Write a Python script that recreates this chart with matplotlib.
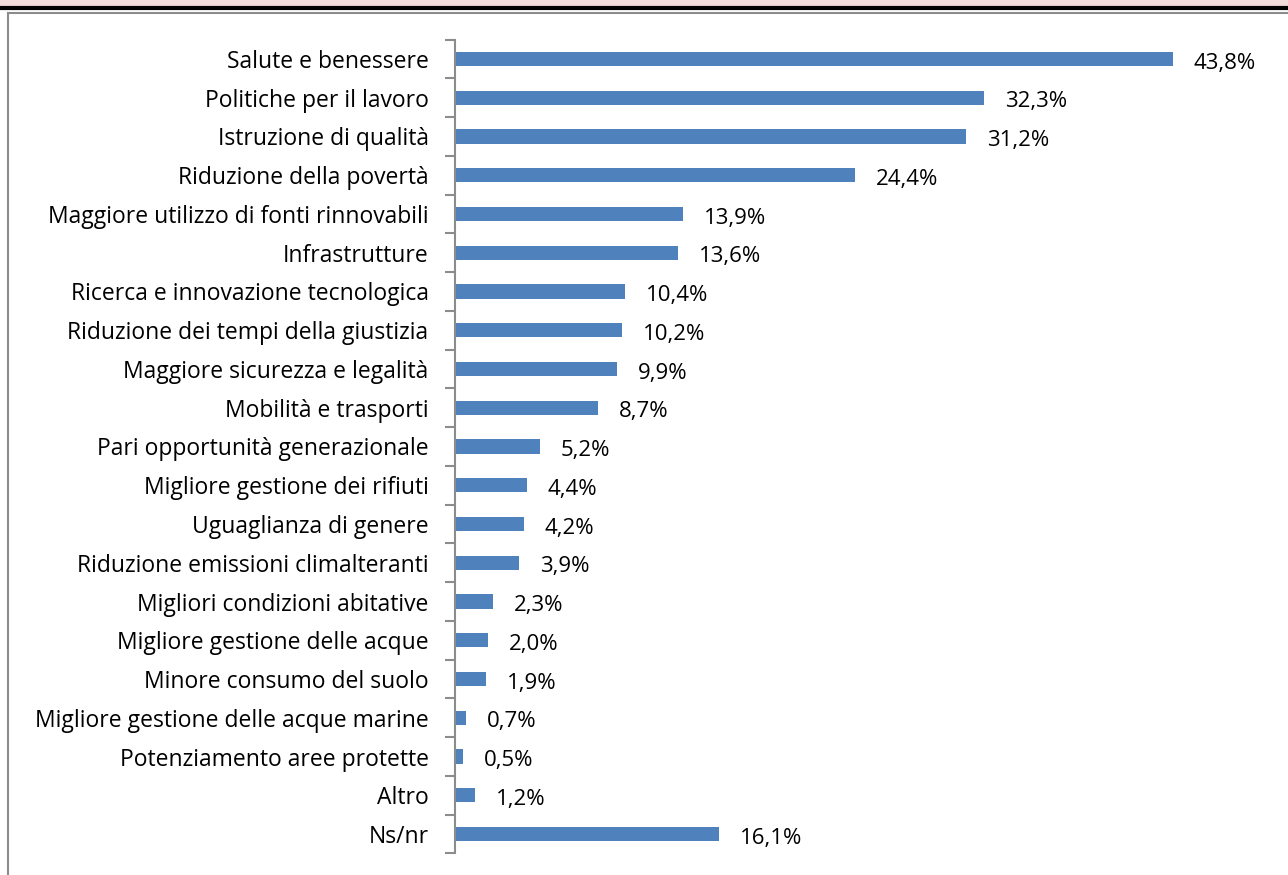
import matplotlib.pyplot as plt
from matplotlib.patches import Rectangle
from matplotlib.lines import Line2D

categories = ['Salute e benessere', 'Politiche per il lavoro', 'Istruzione di qualità',
              'Riduzione della povertà', 'Maggiore utilizzo di fonti rinnovabili',
              'Infrastrutture', 'Ricerca e innovazione tecnologica',
              'Riduzione dei tempi della giustizia', 'Maggiore sicurezza e legalità',
              'Mobilità e trasporti', 'Pari opportunità generazionale',
              'Migliore gestione dei rifiuti', 'Uguaglianza di genere',
              'Riduzione emissioni climalteranti', 'Migliori condizioni abitative',
              'Migliore gestione delle acque', 'Minore consumo del suolo',
              'Migliore gestione delle acque marine', 'Potenziamento aree protette',
              'Altro', 'Ns/nr']
values = [43.8, 32.3, 31.2, 24.4, 13.9, 13.6, 10.4, 10.2, 9.9, 8.7, 5.2,
          4.4, 4.2, 3.9, 2.3, 2.0, 1.9, 0.7, 0.5, 1.2, 16.1]
labels = [f'{v:.1f}%'.replace('.', ',') for v in values]

plt.rcParams['font.family'] = ['Open Sans', 'DejaVu Sans']

W, H = 1288, 875
fig = plt.figure(figsize=(W / 100, H / 100), dpi=100)

# pink header strip with rules
fig.add_artist(Rectangle((0, 1 - 8 / H), 1, 8 / H, transform=fig.transFigure,
                         facecolor='#f2dcdb', edgecolor='none'))
fig.add_artist(Line2D([0, 1], [1 - 8 / H, 1 - 8 / H], transform=fig.transFigure,
                      color='black', lw=3))
fig.add_artist(Line2D([8 / W, 1], [1 - 13 / H, 1 - 13 / H], transform=fig.transFigure,
                      color='#8c8c8c', lw=1.5))
fig.add_artist(Line2D([8 / W, 8 / W], [0, 1 - 13 / H], transform=fig.transFigure,
                      color='#8c8c8c', lw=1.5))

x0, x1 = 455, 1288
y_top, y_bot = 39.6, 853.4
ax = fig.add_axes([x0 / W, 1 - y_bot / H, (x1 - x0) / W, (y_bot - y_top) / H])

n = len(categories)
pos = list(range(n))
ax.barh(pos, values, height=0.37, color='#4f81bd')
ax.set_ylim(n - 0.5, -0.5)
ax.set_xlim(0, (x1 - x0) / 16.39)

for p, v, t in zip(pos, values, labels):
    ax.annotate(t, (v, p), xytext=(15, -3), textcoords='offset points',
                ha='left', va='center', fontsize=16, color='black')

ax.set_yticks(pos)
ax.set_yticklabels(categories, fontsize=16.5)
ax.set_yticks([i + 0.5 for i in range(-1, n)], minor=True)
ax.tick_params(axis='y', which='major', length=0, pad=19)
ax.tick_params(axis='y', which='minor', length=7, color='#8c8c8c', width=1.5)
ax.set_xticks([])
for s in ['top', 'right', 'bottom']:
    ax.spines[s].set_visible(False)
ax.spines['left'].set_color('#8c8c8c')
ax.spines['left'].set_linewidth(1.5)

fig.savefig('out.png', dpi=100)
